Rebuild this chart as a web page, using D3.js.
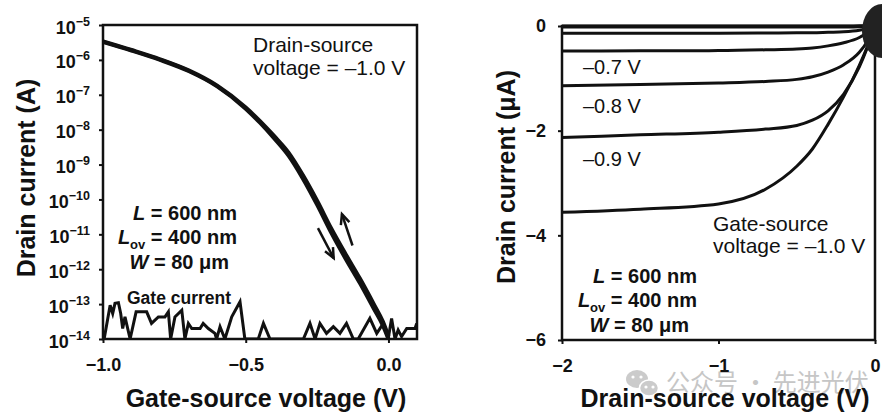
<!DOCTYPE html>
<html><head><meta charset="utf-8">
<script src="https://cdn.jsdelivr.net/npm/d3@7/dist/d3.min.js"></script>
<style>
body{margin:0;background:#fff}
svg{display:block}
text{font-family:"Liberation Sans",Arial,Helvetica,sans-serif;fill:#111}
</style>
</head><body>
<svg id="chart" width="892" height="417"></svg>
<script>
// ---------- Left panel data (transfer curve) ----------
const gateVoltage      = [-1.0,-0.9,-0.8,-0.7,-0.6,-0.5,-0.45,-0.4,-0.35,-0.3,-0.25,-0.2,-0.15,-0.1,-0.05,-0.02,0.0];
const drainCurrentFwd  = [3.3e-6,1.86e-6,1.0e-6,4.8e-7,1.74e-7,4.0e-8,1.58e-8,5.6e-9,1.8e-9,4.0e-10,7.1e-11,1.1e-11,2.0e-12,4.0e-13,7.1e-14,2.5e-14,1.0e-14];
const drainCurrentRev  = [3.4e-6,1.92e-6,1.04e-6,5.0e-7,1.82e-7,4.3e-8,1.75e-8,6.5e-9,2.2e-9,5.0e-10,9.2e-11,1.45e-11,2.7e-12,5.4e-13,9.5e-14,3.2e-14,1.2e-14];
const gateNoiseV = [-0.996,-0.975,-0.966,-0.958,-0.946,-0.938,-0.931,-0.923,-0.905,-0.884,-0.847,-0.830,-0.806,-0.783,-0.771,-0.763,-0.748,-0.724,-0.713,-0.701,-0.689,-0.660,-0.649,-0.631,-0.608,-0.602,-0.590,-0.573,-0.549,-0.520,-0.503,-0.456,-0.438,-0.415,-0.298,-0.275,-0.257,-0.240,-0.217,-0.193,-0.170,-0.147,-0.123,-0.106,-0.065,-0.041,-0.018,-0.001,0.011,0.023,0.034,0.046,0.064,0.093,0.099];
const gateCurrent = [1e-14,9.3e-14,5.4e-14,1.05e-13,1.1e-13,5.4e-14,2.0e-14,4.3e-14,1e-14,6e-14,6e-14,2.8e-14,4.3e-14,4.3e-14,6e-14,1e-14,4.3e-14,6.7e-14,1e-14,2.8e-14,2.0e-14,2.0e-14,2.8e-14,2.0e-14,1.45e-14,1e-14,2.25e-14,1e-14,4.3e-14,1.17e-13,1e-14,1e-14,2.8e-14,1e-14,1e-14,2.8e-14,1e-14,2.8e-14,1.45e-14,2.25e-14,1.45e-14,2.8e-14,1e-14,1e-14,3.9e-14,1.45e-14,2.8e-14,1e-14,3.9e-14,1e-14,1.8e-14,1.17e-14,2.0e-14,2.0e-14,2.8e-14];
const logTicks    = [1e-5,1e-6,1e-7,1e-8,1e-9,1e-10,1e-11,1e-12,1e-13,1e-14];
const logTickExp  = ["−5","−6","−7","−8","−9","−10","−11","−12","−13","−14"];
const vgsTicks    = [-1.0,-0.5,0.0];
const vgsTickText = ["−1.0","−0.5","0.0"];
// hysteresis arrows (data coords: [V, I] start -> end)
const arrowDown = [[-0.247,10**-10.82],[-0.192,10**-11.68]];
const arrowUp   = [[-0.126,10**-11.32],[-0.163,10**-10.42]];

// ---------- Right panel data (output curves) ----------
const vdsPoints = [-2,-1.5,-1,-0.7,-0.5,-0.4,-0.3,-0.2,-0.1,-0.05,0];
const idVgs05 = [-0.01,-0.01,-0.01,-0.01,-0.01,-0.01,-0.01,-0.01,-0.005,-0.003,0];
const idVgs06 = [-0.14,-0.14,-0.14,-0.135,-0.13,-0.13,-0.12,-0.11,-0.08,-0.05,0];
const idVgs07 = [-0.48,-0.475,-0.47,-0.455,-0.44,-0.42,-0.38,-0.32,-0.22,-0.13,0];
const idVgs08 = [-1.14,-1.12,-1.09,-1.06,-1.02,-0.97,-0.88,-0.74,-0.5,-0.3,0];
const idVgs09 = [-2.13,-2.08,-2.03,-1.97,-1.9,-1.8,-1.62,-1.3,-0.78,-0.42,0];
const idVgs10 = [-3.56,-3.5,-3.4,-3.12,-2.68,-2.35,-1.88,-1.35,-0.75,-0.4,0];
const idTicks    = [0,-2,-4,-6];
const idTickText = ["0","−2","−4","−6"];
const vdsTicks    = [-2,-1,0];
const vdsTickText = ["−2","−1","0"];
const curveLabels = ["–0.7 V","–0.8 V","–0.9 V"];
const curveLabelI = [-0.92,-1.67,-2.67];

const svg = d3.select("#chart");

// ================= LEFT PANEL =================
const xL = d3.scaleLinear().domain([-1.0,0.1]).range([103,417]);
const yL = d3.scaleLog().domain([1e-14,1e-5]).range([339,25]);

// watermark (drawn first, light)
const wm = svg.append("g");
wm.append("ellipse").attr("cx",637).attr("cy",379).attr("rx",11).attr("ry",9).attr("fill","#cbcbcb");
wm.append("ellipse").attr("cx",649).attr("cy",388).attr("rx",9.5).attr("ry",8).attr("fill","#cbcbcb").attr("stroke","#fff").attr("stroke-width",1.5);
[[633,377],[641,377],[646,387],[653,387]].forEach(p=>wm.append("circle").attr("cx",p[0]).attr("cy",p[1]).attr("r",1.6).attr("fill","#fff"));
wm.append("text").attr("x",666).attr("y",391).attr("font-size",24)
  .style("font-family","'Noto Sans CJK SC',sans-serif").style("fill","#c6c6c6")
  .text("公众号 · 先进光伏");

function styleAxis(g){
  g.select(".domain").remove();
  g.selectAll(".tick line").attr("stroke","#111").attr("stroke-width",2);
  g.selectAll(".tick text").attr("font-size",18).attr("font-weight","bold").style("fill","#111")
   .style("font-family","'Liberation Sans',Arial,sans-serif");
}

const axLy = svg.append("g").attr("transform","translate(103,0)")
  .call(d3.axisLeft(yL).tickValues(logTicks).tickSize(4).tickPadding(9).tickFormat(""));
styleAxis(axLy);
axLy.selectAll(".tick text").each(function(d,i){
  const t = d3.select(this).attr("dy",null).attr("y",8).attr("x",-13).attr("text-anchor","end");
  t.text(null);
  t.append("tspan").text("10");
  t.append("tspan").attr("font-size",12.5).attr("dy",-8).text(logTickExp[i]);
});

const axLx = svg.append("g").attr("transform","translate(0,339)")
  .call(d3.axisBottom(xL).tickValues(vgsTicks).tickSize(4).tickPadding(15).tickFormat((d,i)=>vgsTickText[i]));
styleAxis(axLx);

// frame
svg.append("rect").attr("x",103).attr("y",25).attr("width",314).attr("height",314)
  .attr("fill","none").attr("stroke","#111").attr("stroke-width",2.5);

svg.append("clipPath").attr("id","clipL").append("rect")
  .attr("x",103).attr("y",23).attr("width",314).attr("height",317);
const plotL = svg.append("g").attr("clip-path","url(#clipL)");

const lineL = d3.line().x(d=>xL(d[0])).y(d=>yL(d[1])).curve(d3.curveMonotoneX);
plotL.append("path").datum(d3.zip(gateVoltage,drainCurrentFwd)).attr("d",lineL)
  .attr("fill","none").attr("stroke","#111").attr("stroke-width",4).attr("stroke-linejoin","round");
plotL.append("path").datum(d3.zip(gateVoltage,drainCurrentRev)).attr("d",lineL)
  .attr("fill","none").attr("stroke","#111").attr("stroke-width",4).attr("stroke-linejoin","round");

const lineG = d3.line().x(d=>xL(d[0])).y(d=>yL(d[1]));
plotL.append("path").datum(d3.zip(gateNoiseV,gateCurrent)).attr("d",lineG)
  .attr("fill","none").attr("stroke","#111").attr("stroke-width",3).attr("stroke-linejoin","miter");

// arrows
function arrow(g, pts){
  const p0=[xL(pts[0][0]),yL(pts[0][1])], p1=[xL(pts[1][0]),yL(pts[1][1])];
  g.append("line").attr("x1",p0[0]).attr("y1",p0[1]).attr("x2",p1[0]).attr("y2",p1[1])
    .attr("stroke","#111").attr("stroke-width",2.5);
  const ang=Math.atan2(p1[1]-p0[1],p1[0]-p0[0]), L=11, a=0.42;
  const h1=[p1[0]-L*Math.cos(ang-a),p1[1]-L*Math.sin(ang-a)];
  const h2=[p1[0]-L*Math.cos(ang+a),p1[1]-L*Math.sin(ang+a)];
  g.append("path").attr("d",`M${h1}L${p1}L${h2}`).attr("fill","none").attr("stroke","#111").attr("stroke-width",2.5);
}
arrow(svg,arrowDown); arrow(svg,arrowUp);

// annotations left
svg.append("text").attr("x",253).attr("y",52).attr("font-size",21).text("Drain-source");
svg.append("text").attr("x",253).attr("y",75).attr("font-size",21).text("voltage = –1.0 V");
svg.append("text").attr("x",127).attr("y",304).attr("font-size",17.5).attr("font-weight","bold").text("Gate current");

function paramBlock(xr, y0){
  const g=svg.append("g").attr("font-size",20).attr("font-weight","bold");
  const t1=g.append("text").attr("x",xr).attr("y",y0).attr("text-anchor","end");
  t1.append("tspan").attr("font-style","italic").text("L");
  t1.append("tspan").text(" = 600 nm");
  const t2=g.append("text").attr("x",xr).attr("y",y0+24).attr("text-anchor","end");
  t2.append("tspan").attr("font-style","italic").text("L");
  t2.append("tspan").attr("font-size",13).attr("dy",5).text("ov");
  t2.append("tspan").attr("dy",-5).text(" = 400 nm");
  const t3=g.append("text").attr("x",xr-8).attr("y",y0+49).attr("text-anchor","end");
  t3.append("tspan").attr("font-style","italic").text("W");
  t3.append("tspan").text(" = 80 μm");
}
paramBlock(237,220);

// axis titles left
svg.append("text").attr("x",266).attr("y",407).attr("text-anchor","middle")
  .attr("font-size",25).attr("font-weight","bold").text("Gate-source voltage (V)");
svg.append("text").attr("transform","translate(35,178) rotate(-90)").attr("text-anchor","middle")
  .attr("font-size",25).attr("font-weight","bold").text("Drain current (A)");

// ================= RIGHT PANEL =================
const xR = d3.scaleLinear().domain([-2,0]).range([562,875]);
const yR = d3.scaleLinear().domain([-6,0]).range([340,26]);

const axRy = svg.append("g").attr("transform","translate(562,0)")
  .call(d3.axisLeft(yR).tickValues(idTicks).tickSize(4).tickPadding(12).tickFormat((d,i)=>idTickText[i]));
styleAxis(axRy);
const axRx = svg.append("g").attr("transform","translate(0,340)")
  .call(d3.axisBottom(xR).tickValues(vdsTicks).tickSize(4).tickPadding(15).tickFormat((d,i)=>vdsTickText[i]));
styleAxis(axRx);

svg.append("rect").attr("x",562).attr("y",26).attr("width",313).attr("height",314)
  .attr("fill","none").attr("stroke","#111").attr("stroke-width",2.5);

const lineR = d3.line().x(d=>xR(d[0])).y(d=>yR(d[1])).curve(d3.curveMonotoneX);
[idVgs05,idVgs06,idVgs07,idVgs08,idVgs09,idVgs10].forEach((s,i)=>{
  svg.append("path").datum(d3.zip(vdsPoints,s)).attr("d",lineR)
    .attr("fill","none").attr("stroke","#111").attr("stroke-width",i===0?4:3);
});

// origin blob
svg.append("path").attr("d",`M882,4 A20,27 0 0 0 882,58 Z`).attr("fill","#222");

curveLabels.forEach((t,i)=>{
  svg.append("text").attr("x",583).attr("y",yR(curveLabelI[i])).attr("font-size",20).text(t);
});
svg.append("text").attr("x",713).attr("y",231).attr("font-size",21).text("Gate-source");
svg.append("text").attr("x",713).attr("y",253).attr("font-size",21).text("voltage = –1.0 V");
paramBlock(697,283);

svg.append("text").attr("x",725).attr("y",407).attr("text-anchor","middle")
  .attr("font-size",25).attr("font-weight","bold").text("Drain-source voltage (V)");
svg.append("text").attr("transform","translate(515,177) rotate(-90)").attr("text-anchor","middle")
  .attr("font-size",25).attr("font-weight","bold").text("Drain current (μA)");
</script>
</body></html>
